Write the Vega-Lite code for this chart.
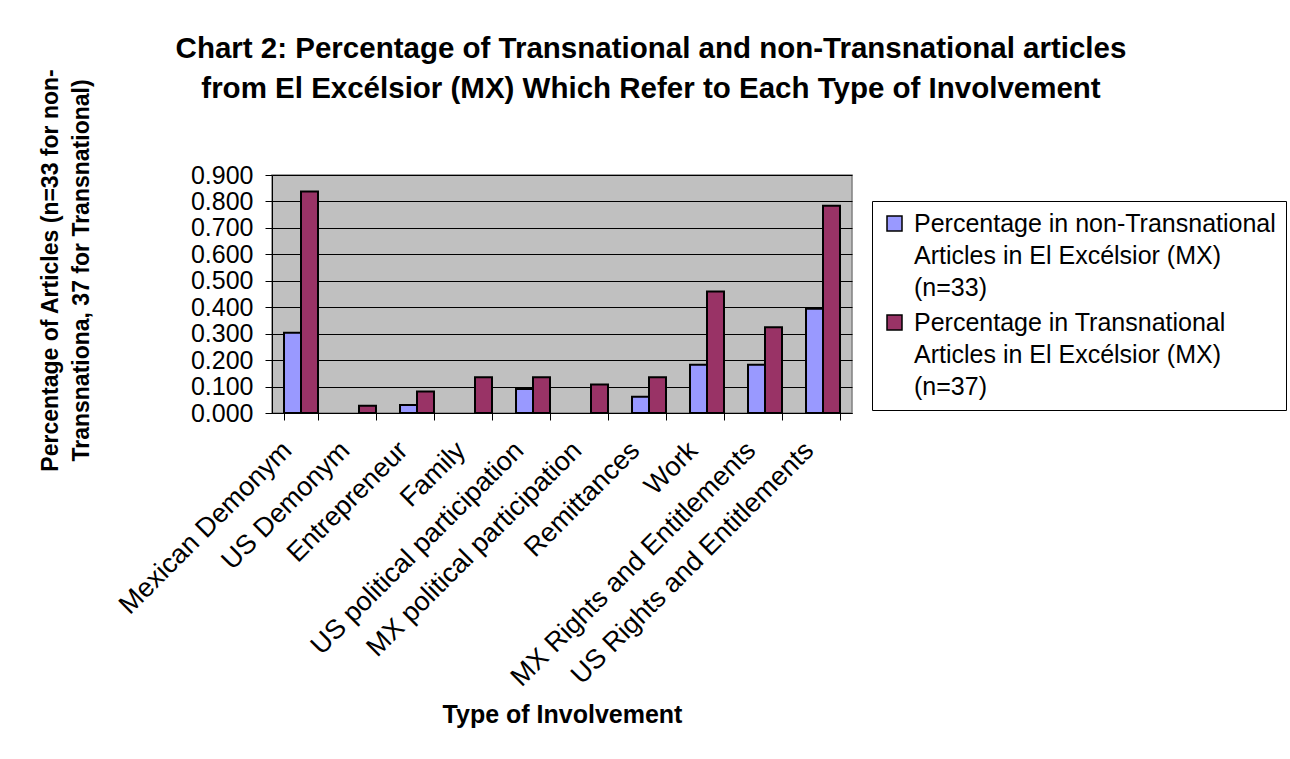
{
  "$schema": "https://vega.github.io/schema/vega-lite/v6.json",
  "width": 580,
  "height": 238,
  "autosize": "none",
  "padding": {"left": 272, "top": 175, "right": 438, "bottom": 346},
  "background": "white",
  "title": {
    "text": ["Chart 2: Percentage of Transnational and non-Transnational articles", "from El Excélsior (MX) Which Refer to Each Type of Involvement"],
    "font": "Liberation Sans",
    "fontSize": 29.5,
    "fontWeight": "bold",
    "color": "#000000",
    "lineHeight": 40,
    "anchor": "middle",
    "frame": "group",
    "dx": 89,
    "offset": -36
  },
  "data": {
    "values": [
      {"type": "Mexican Demonym", "series": "Percentage in non-Transnational Articles in El Excélsior (MX) (n=33)", "value": 0.303},
      {"type": "Mexican Demonym", "series": "Percentage in Transnational Articles in El Excélsior (MX) (n=37)", "value": 0.838},
      {"type": "US Demonym", "series": "Percentage in non-Transnational Articles in El Excélsior (MX) (n=33)", "value": 0.0},
      {"type": "US Demonym", "series": "Percentage in Transnational Articles in El Excélsior (MX) (n=37)", "value": 0.027},
      {"type": "Entrepreneur", "series": "Percentage in non-Transnational Articles in El Excélsior (MX) (n=33)", "value": 0.030},
      {"type": "Entrepreneur", "series": "Percentage in Transnational Articles in El Excélsior (MX) (n=37)", "value": 0.081},
      {"type": "Family", "series": "Percentage in non-Transnational Articles in El Excélsior (MX) (n=33)", "value": 0.0},
      {"type": "Family", "series": "Percentage in Transnational Articles in El Excélsior (MX) (n=37)", "value": 0.135},
      {"type": "US political participation", "series": "Percentage in non-Transnational Articles in El Excélsior (MX) (n=33)", "value": 0.091},
      {"type": "US political participation", "series": "Percentage in Transnational Articles in El Excélsior (MX) (n=37)", "value": 0.135},
      {"type": "MX political participation", "series": "Percentage in non-Transnational Articles in El Excélsior (MX) (n=33)", "value": 0.0},
      {"type": "MX political participation", "series": "Percentage in Transnational Articles in El Excélsior (MX) (n=37)", "value": 0.108},
      {"type": "Remittances", "series": "Percentage in non-Transnational Articles in El Excélsior (MX) (n=33)", "value": 0.061},
      {"type": "Remittances", "series": "Percentage in Transnational Articles in El Excélsior (MX) (n=37)", "value": 0.135},
      {"type": "Work", "series": "Percentage in non-Transnational Articles in El Excélsior (MX) (n=33)", "value": 0.182},
      {"type": "Work", "series": "Percentage in Transnational Articles in El Excélsior (MX) (n=37)", "value": 0.459},
      {"type": "MX Rights and Entitlements", "series": "Percentage in non-Transnational Articles in El Excélsior (MX) (n=33)", "value": 0.182},
      {"type": "MX Rights and Entitlements", "series": "Percentage in Transnational Articles in El Excélsior (MX) (n=37)", "value": 0.324},
      {"type": "US Rights and Entitlements", "series": "Percentage in non-Transnational Articles in El Excélsior (MX) (n=33)", "value": 0.394},
      {"type": "US Rights and Entitlements", "series": "Percentage in Transnational Articles in El Excélsior (MX) (n=37)", "value": 0.784}
    ]
  },
  "mark": {"type": "bar", "stroke": "#000000", "strokeWidth": 2},
  "encoding": {
    "x": {
      "field": "type",
      "type": "nominal",
      "sort": null,
      "scale": {"paddingInner": 0.414, "paddingOuter": 0.207},
      "axis": {
        "title": "Type of Involvement",
        "titleFont": "Liberation Sans",
        "titleFontSize": 25,
        "titleFontWeight": "bold",
        "titleColor": "#000000",
        "titleBaseline": "alphabetic",
        "titleY": 309,
        "labelFont": "Liberation Sans",
        "labelFontSize": 27,
        "labelColor": "#000000",
        "labelAngle": -45,
        "labelAlign": "right",
        "labelBaseline": "middle",
        "labelPadding": 26,
        "labelOffset": -14,
        "labelLimit": 0,
        "labelOverlap": false,
        "tickBand": "extent",
        "tickSize": 7,
        "tickColor": "#000000",
        "domainColor": "#000000",
        "grid": false
      }
    },
    "xOffset": {
      "field": "series",
      "type": "nominal",
      "sort": ["Percentage in non-Transnational Articles in El Excélsior (MX) (n=33)", "Percentage in Transnational Articles in El Excélsior (MX) (n=37)"],
      "scale": {"paddingInner": 0, "paddingOuter": 0}
    },
    "y": {
      "field": "value",
      "type": "quantitative",
      "scale": {"domain": [0, 0.9], "nice": false},
      "axis": {
        "title": ["Percentage of Articles (n=33 for non-", "Transnationa, 37 for Transnational)"],
        "titleFont": "Liberation Sans",
        "titleFontSize": 23,
        "titleFontWeight": "bold",
        "titleColor": "#000000",
        "titleLineHeight": 31,
        "titleAngle": -90,
        "titleAlign": "center",
        "titleBaseline": "middle",
        "titleX": -222,
        "titleY": 95,
        "values": [0, 0.1, 0.2, 0.3, 0.4, 0.5, 0.6, 0.7, 0.8, 0.9],
        "format": ".3f",
        "labelFont": "Liberation Sans",
        "labelFontSize": 25,
        "labelColor": "#000000",
        "labelPadding": 12,
        "tickSize": 7,
        "tickColor": "#000000",
        "domainColor": "#000000",
        "grid": true,
        "gridColor": "#000000",
        "gridWidth": 1
      }
    },
    "strokeOpacity": {
      "condition": {"test": "datum.value == 0", "value": 0},
      "value": 1
    },
    "color": {
      "field": "series",
      "type": "nominal",
      "scale": {
        "domain": ["Percentage in non-Transnational Articles in El Excélsior (MX) (n=33)", "Percentage in Transnational Articles in El Excélsior (MX) (n=37)"],
        "range": ["#9999FF", "#993366"]
      },
      "legend": {
        "title": null,
        "orient": "none",
        "legendX": 600,
        "legendY": 26,
        "direction": "vertical",
        "strokeColor": "#000000",
        "fillColor": "#FFFFFF",
        "padding": 10,
        "rowPadding": 9,
        "symbolType": "square",
        "symbolSize": 225,
        "symbolStrokeColor": "#000000",
        "symbolStrokeWidth": 1.5,
        "symbolOpacity": 1,
        "labelFont": "Liberation Sans",
        "labelFontSize": 25,
        "labelColor": "#000000",
        "labelOffset": 7,
        "labelLimit": 0,
        "labelBaseline": "middle",
        "labelExpr": "datum.label == 'Percentage in non-Transnational Articles in El Excélsior (MX) (n=33)' ? ['Percentage in non-Transnational', 'Articles in El Excélsior (MX)', '(n=33)'] : ['Percentage in Transnational', 'Articles in El Excélsior (MX)', '(n=37)']",
        "encode": {"labels": {"update": {"lineHeight": {"value": 32}}}}
      }
    }
  },
  "config": {
    "view": {"fill": "#C0C0C0", "stroke": "#808080", "strokeWidth": 1.5},
    "font": "Liberation Sans"
  }
}
